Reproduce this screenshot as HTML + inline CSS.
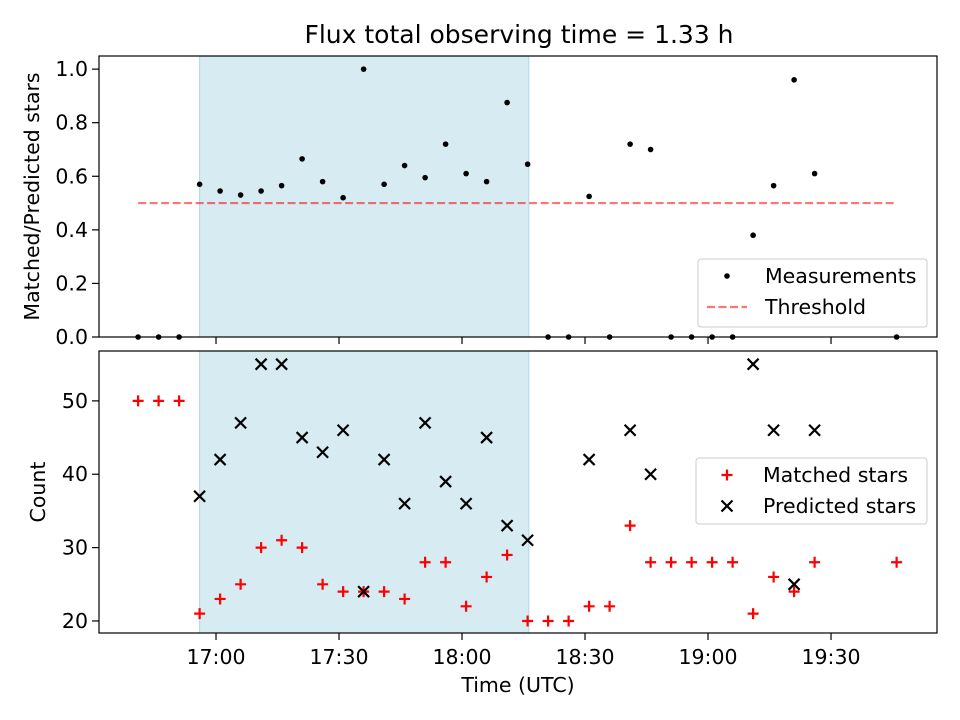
<!DOCTYPE html>
<html><head><meta charset="utf-8"><style>
body{margin:0;background:#fff}
svg{display:block;font-family:"DejaVu Sans","Liberation Sans",sans-serif}
</style></head><body>
<svg id="fig" width="960" height="720" xmlns="http://www.w3.org/2000/svg"></svg>
<script>
const times=[41,46,51,56,61,66,71,76,81,86,91,96,101,106,111,116,121,126,131,136,141,146,151,156,161,166,171,176,181,186,191,196,201,206,226];
const ratio=[0,0,0,0.57,0.545,0.53,0.545,0.565,0.665,0.58,0.52,1.0,0.57,0.64,0.595,0.72,0.61,0.58,0.875,0.645,0,0,0.525,0,0.72,0.70,0,0,0,0,0.38,0.565,0.96,0.61,0];
const matched=[50,50,50,21,23,25,30,31,30,25,24,24,24,23,28,28,22,26,29,20,20,20,22,22,33,28,28,28,28,28,21,26,24,28,28];
const predTimes=[56,61,66,71,76,81,86,91,96,101,106,111,116,121,126,131,136,151,161,166,191,196,201,206];
const predicted=[37,42,47,55,55,45,43,46,24,42,36,47,39,36,45,33,31,42,46,40,55,46,25,46];
const xTickMin=[60,90,120,150,180,210];
const xTickLabels=["17:00","17:30","18:00","18:30","19:00","19:30"];
const topTicks=[0,0.2,0.4,0.6,0.8,1.0];
const topTickLabels=["0.0","0.2","0.4","0.6","0.8","1.0"];
const botTicks=[20,30,40,50];
const botTickLabels=["20","30","40","50"];
const spanStart=56, spanEnd=136.3, thrStart=41, thrEnd=226, threshold=0.5;

const NS="http://www.w3.org/2000/svg";
const svg=document.getElementById('fig');
function el(t,a,p){const e=document.createElementNS(NS,t);for(const k in a)e.setAttribute(k,a[k]);(p||svg).appendChild(e);return e;}
const FS='20.5';
const X0=99,X1=937,xmin=31.46,xmax=235.85;
const x=m=>X0+(m-xmin)/(xmax-xmin)*(X1-X0);
const T0=56,T1=337,tmin=0,tmax=1.049;
const yt=v=>T1-(v-tmin)/(tmax-tmin)*(T1-T0);
const B0=351,B1=633,bmin=18.36,bmax=56.8;
const yb=v=>B1-(v-bmin)/(bmax-bmin)*(B1-B0);

let t=el('text',{x:519,y:43,'font-size':'25','text-anchor':'middle'});t.textContent="Flux total observing time = 1.33 h";


let s=el('rect',{x:x(spanStart),y:T0,width:x(spanEnd)-x(spanStart),height:T1-T0,fill:'#add8e6','fill-opacity':'0.5',stroke:'#add8e6'});

s=el('rect',{x:x(spanStart),y:B0,width:x(spanEnd)-x(spanStart),height:B1-B0,fill:'#add8e6','fill-opacity':'0.5',stroke:'#add8e6'});


let th=el('line',{x1:x(thrStart),x2:x(thrEnd),y1:yt(threshold),y2:yt(threshold),stroke:'#ff0000','stroke-opacity':'0.55','stroke-width':2.2,'stroke-dasharray':'8,3.5'});


times.forEach((m,i)=>{const c=el('circle',{cx:x(m),cy:yt(ratio[i]),r:2.8,fill:'#000'});
});

times.forEach((m,i)=>{const cx=x(m),cy=yb(matched[i]);const g=el('path',{d:`M${cx-5.5},${cy}H${cx+5.5}M${cx},${cy-5.5}V${cy+5.5}`,stroke:'#ff0000','stroke-width':2.2});
});
predTimes.forEach((m,i)=>{const cx=x(m),cy=yb(predicted[i]);const g=el('path',{d:`M${cx-5.5},${cy-5.5}L${cx+5.5},${cy+5.5}M${cx-5.5},${cy+5.5}L${cx+5.5},${cy-5.5}`,stroke:'#000','stroke-width':2.2});
});

let f=el('rect',{x:X0,y:T0,width:X1-X0,height:T1-T0,fill:'none',stroke:'#000','stroke-width':1.2});

f=el('rect',{x:X0,y:B0,width:X1-X0,height:B1-B0,fill:'none',stroke:'#000','stroke-width':1.2});


xTickMin.forEach((m,i)=>{const px=x(m);
el('line',{x1:px,x2:px,y1:T1,y2:T1+7,stroke:'#000','stroke-width':1.2});
el('line',{x1:px,x2:px,y1:B1,y2:B1+7,stroke:'#000','stroke-width':1.2});
const l=el('text',{x:px,y:B1+31,'font-size':FS,'text-anchor':'middle'});l.textContent=xTickLabels[i];
});
topTicks.forEach((v,i)=>{const py=yt(v);el('line',{x1:X0-7,x2:X0,y1:py,y2:py,stroke:'#000','stroke-width':1.2});
const l=el('text',{x:X0-11,y:py+7,'font-size':FS,'text-anchor':'end'});l.textContent=topTickLabels[i];
});
botTicks.forEach((v,i)=>{const py=yb(v);el('line',{x1:X0-7,x2:X0,y1:py,y2:py,stroke:'#000','stroke-width':1.2});
const l=el('text',{x:X0-11,y:py+7,'font-size':FS,'text-anchor':'end'});l.textContent=botTickLabels[i];
});

let a=el('text',{x:518,y:692,'font-size':FS,'text-anchor':'middle'});a.textContent="Time (UTC)";

a=el('text',{x:0,y:0,'font-size':FS,'text-anchor':'middle',transform:`translate(39,${(T0+T1)/2}) rotate(-90)`});a.textContent="Matched/Predicted stars";

a=el('text',{x:0,y:0,'font-size':FS,'text-anchor':'middle',transform:`translate(45,${(B0+B1)/2}) rotate(-90)`});a.textContent="Count";


let lg=el('g',{});
el('rect',{x:698,y:259,width:229,height:68,rx:3,fill:'#fff','fill-opacity':'0.8',stroke:'#ccc'},lg);
el('circle',{cx:727,cy:276,r:2.8,fill:'#000'},lg);
let lt=el('text',{x:765,y:283,'font-size':FS},lg);lt.textContent="Measurements";
el('line',{x1:707,x2:747,y1:307,y2:307,stroke:'#ff0000','stroke-opacity':'0.55','stroke-width':2.2,'stroke-dasharray':'8,3.5'},lg);
lt=el('text',{x:765,y:314,'font-size':FS},lg);lt.textContent="Threshold";

lg=el('g',{});
el('rect',{x:696,y:458,width:231,height:66,rx:3,fill:'#fff','fill-opacity':'0.8',stroke:'#ccc'},lg);
el('path',{d:'M721.5,475H732.5M727,469.5V480.5',stroke:'#ff0000','stroke-width':2.2},lg);
lt=el('text',{x:763,y:482,'font-size':FS},lg);lt.textContent="Matched stars";
el('path',{d:'M721.5,500.5L732.5,511.5M721.5,511.5L732.5,500.5',stroke:'#000','stroke-width':2.2},lg);
lt=el('text',{x:763,y:513,'font-size':FS},lg);lt.textContent="Predicted stars";
</script>
</body></html>
